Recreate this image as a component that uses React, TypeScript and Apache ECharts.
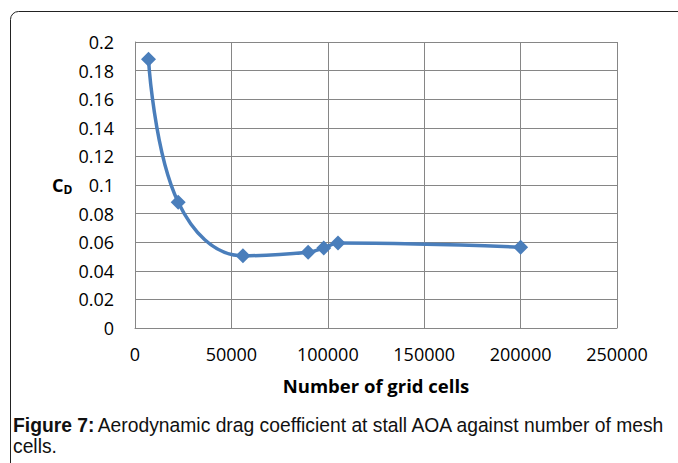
import React, { useEffect, useRef } from "react";
import * as echarts from "echarts";

const gridCells = [7000, 22400, 56000, 89800, 97900, 105300, 200000];
const dragCoeff = [0.188, 0.088, 0.0505, 0.053, 0.056, 0.0594, 0.0565];
const yTicks = [0, 0.02, 0.04, 0.06, 0.08, 0.1, 0.12, 0.14, 0.16, 0.18, 0.2];

export default function App() {
  const ref = useRef<HTMLDivElement>(null);
  useEffect(() => {
    const chart = echarts.init(ref.current!, null, { renderer: "svg" });
    const font = "'Open Sans', sans-serif";
    const capFont = "'Liberation Sans', Arial, sans-serif";
    chart.setOption({
      animation: false,
      backgroundColor: "#ffffff",
      grid: { left: 135, top: 42, right: 61, bottom: 135, containLabel: false },
      xAxis: {
        type: "value",
        min: 0,
        max: 250000,
        interval: 50000,
        axisLine: { show: true, lineStyle: { color: "#868686", width: 1 } },
        axisTick: { show: false },
        splitLine: { show: true, lineStyle: { color: "#868686", width: 1 } },
        axisLabel: {
          color: "#000",
          fontFamily: font,
          fontSize: 18,
          margin: 17,
          formatter: (v: number) => String(Math.round(v)),
        },
      },
      yAxis: {
        type: "value",
        min: 0,
        max: 0.2,
        interval: 0.02,
        axisLine: { show: true, lineStyle: { color: "#868686", width: 1 } },
        axisTick: { show: false },
        splitLine: { show: true, lineStyle: { color: "#868686", width: 1 } },
        axisLabel: {
          color: "#000",
          fontFamily: font,
          fontSize: 18,
          margin: 21,
          formatter: (v: number) => {
            const t = yTicks.find((k) => Math.abs(k - v) < 1e-9);
            return String(Number((t ?? v).toFixed(2)));
          },
        },
      },
      series: [
        {
          type: "line",
          data: gridCells.map((x, i) => [x, dragCoeff[i]]),
          smooth: 0.4,
          symbol: "diamond",
          symbolSize: 15,
          lineStyle: { color: "#4a7ebb", width: 3.5 },
          itemStyle: { color: "#4a7ebb" },
        },
      ],
      graphic: [
        {
          type: "rect",
          shape: { x: 10.5, y: 11.5, width: 720, height: 520, r: 8 },
          style: { fill: "none", stroke: "#222", lineWidth: 1 },
          silent: true,
        },
        {
          type: "text",
          x: 376,
          y: 385,
          style: {
            text: "Number of grid cells",
            fontFamily: font,
            fontWeight: "bold",
            fontSize: 18.5,
            fill: "#000",
            align: "center",
            verticalAlign: "middle",
          },
        },
        {
          type: "text",
          x: 52,
          y: 185,
          style: {
            text: "{c|C}{d|D}",
            fill: "#000",
            verticalAlign: "middle",
            rich: {
              c: { fontFamily: font, fontWeight: "bold", fontSize: 18, verticalAlign: "middle" },
              d: { fontFamily: font, fontWeight: "bold", fontSize: 12, padding: [9, 0, 0, 0] },
            },
          },
        },
        {
          type: "text",
          x: 13,
          y: 425,
          style: {
            text: "{b|Figure 7:} {n|Aerodynamic drag coefficient at stall AOA against number of mesh}",
            verticalAlign: "middle",
            rich: {
              b: { fontFamily: capFont, fontWeight: "bold", fontSize: 19.3, fill: "#111" },
              n: { fontFamily: capFont, fontSize: 19.3, fill: "#111" },
            },
          },
        },
        {
          type: "text",
          x: 13,
          y: 446,
          style: {
            text: "cells.",
            fontFamily: capFont,
            fontSize: 19.3,
            fill: "#111",
            verticalAlign: "middle",
          },
        },
      ],
    });
    return () => chart.dispose();
  }, []);
  return (
    <div
      ref={ref}
      style={{ position: "absolute", left: 0, top: 0, width: 678, height: 463 }}
    />
  );
}
